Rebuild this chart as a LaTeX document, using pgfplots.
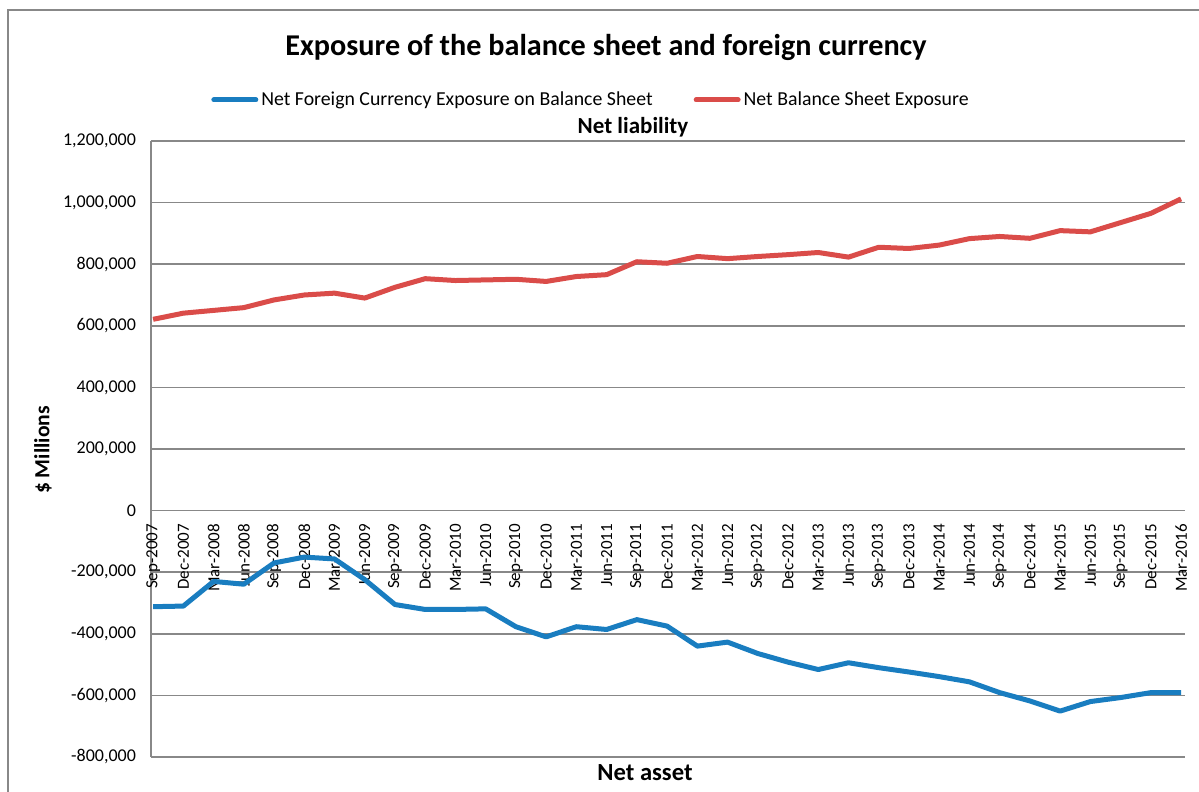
\documentclass[border=0pt]{standalone}
\usepackage{pgfplots}
\pgfplotsset{compat=1.18}
\usepackage{fontspec}
\setmainfont{Carlito}
\definecolor{blueline}{RGB}{25,125,192}
\definecolor{redline}{RGB}{218,76,73}
\definecolor{gridgray}{RGB}{136,136,136}
\begin{document}
\begin{tikzpicture}
\useasboundingbox (-75.5pt,-17.5pt) rectangle (524pt,378.5pt);
\draw[gridgray, line width=0.8pt] (-71.5pt,-40pt) -- (-71.5pt,373.5pt) -- (560pt,373.5pt);
\begin{axis}[
  scale only axis,
  width=517pt, height=308pt,
  at={(0,0)}, anchor=south west,
  xmin=-0.07, xmax=34.13,
  ymin=-800000, ymax=1200000,
  scaled y ticks=false,
  axis x line*=middle,
  axis y line*=left,
  axis line style={-, draw=gridgray, line width=0.8pt},
  xtick={0,...,34},
  xticklabels={Sep-2007,Dec-2007,Mar-2008,Jun-2008,Sep-2008,Dec-2008,Mar-2009,Jun-2009,Sep-2009,Dec-2009,Mar-2010,Jun-2010,Sep-2010,Dec-2010,Mar-2011,Jun-2011,Sep-2011,Dec-2011,Mar-2012,Jun-2012,Sep-2012,Dec-2012,Mar-2013,Jun-2013,Sep-2013,Dec-2013,Mar-2014,Jun-2014,Sep-2014,Dec-2014,Mar-2015,Jun-2015,Sep-2015,Dec-2015,Mar-2016},
  xticklabel style={rotate=90, anchor=east, font=\fontsize{8.5}{10}\selectfont, inner ysep=1.5pt, inner xsep=6.5pt},
  ytick={-800000,-600000,-400000,-200000,0,200000,400000,600000,800000,1000000,1200000},
  yticklabels={{-800,000},{-600,000},{-400,000},{-200,000},{0},{200,000},{400,000},{600,000},{800,000},{1,000,000},{1,200,000}},
  yticklabel style={font=\fontsize{9}{11}\selectfont, xshift=-4pt},
  major tick length=0pt,
  ymajorgrids,
  grid style={gridgray, line width=0.8pt},
  clip=false,
  legend columns=2,
  legend style={at={(0.4260,1.0666)}, anchor=center, draw=none, fill=none,
    font=\fontsize{9.9}{12}\selectfont,
    nodes={inner xsep=1.5pt},
    /tikz/every even column/.append style={column sep=19pt}},
  legend image code/.code={\draw[#1, line width=2.5pt, line cap=round] (0pt,0pt) -- (21pt,0pt);},
]
\addplot[blueline, line width=2.5pt, line join=round] coordinates {
(0,-312000) (1,-310000) (2,-230000) (3,-239000) (4,-170000) (5,-151000) (6,-157000) (7,-224000) (8,-305000) (9,-321000) (10,-321000) (11,-319000) (12,-377000) (13,-410000) (14,-377000) (15,-386000) (16,-354000) (17,-375000) (18,-440000) (19,-427000) (20,-464000) (21,-492000) (22,-516000) (23,-494000) (24,-510000) (25,-524000) (26,-539000) (27,-556000) (28,-591000) (29,-618000) (30,-651000) (31,-620000) (32,-607000) (33,-591000) (34,-591000)
};
\addlegendentry{Net Foreign Currency Exposure on Balance Sheet}
\addplot[redline, line width=2.5pt, line join=round] coordinates {
(0,621000) (1,641000) (2,650000) (3,659000) (4,684000) (5,700000) (6,706000) (7,690000) (8,725000) (9,753000) (10,747000) (11,749000) (12,751000) (13,744000) (14,760000) (15,766000) (16,808000) (17,803000) (18,825000) (19,818000) (20,825000) (21,831000) (22,838000) (23,823000) (24,855000) (25,851000) (26,862000) (27,883000) (28,890000) (29,884000) (30,909000) (31,905000) (32,935000) (33,965000) (34,1012000)
};
\addlegendentry{Net Balance Sheet Exposure}
\end{axis}
\node[font=\bfseries\fontsize{15.1}{18}\selectfont] at (227.5pt,355pt) {Exposure of the balance sheet and foreign currency};
\node[font=\bfseries\fontsize{11.5}{14}\selectfont] at (241pt,315pt) {Net liability};
\node[font=\bfseries\fontsize{12.3}{14}\selectfont] at (247pt,-8pt) {Net asset};
\node[font=\bfseries\fontsize{10.8}{12}\selectfont, rotate=90] at (-54pt,153.5pt) {\$ Millions};
\end{tikzpicture}
\end{document}
